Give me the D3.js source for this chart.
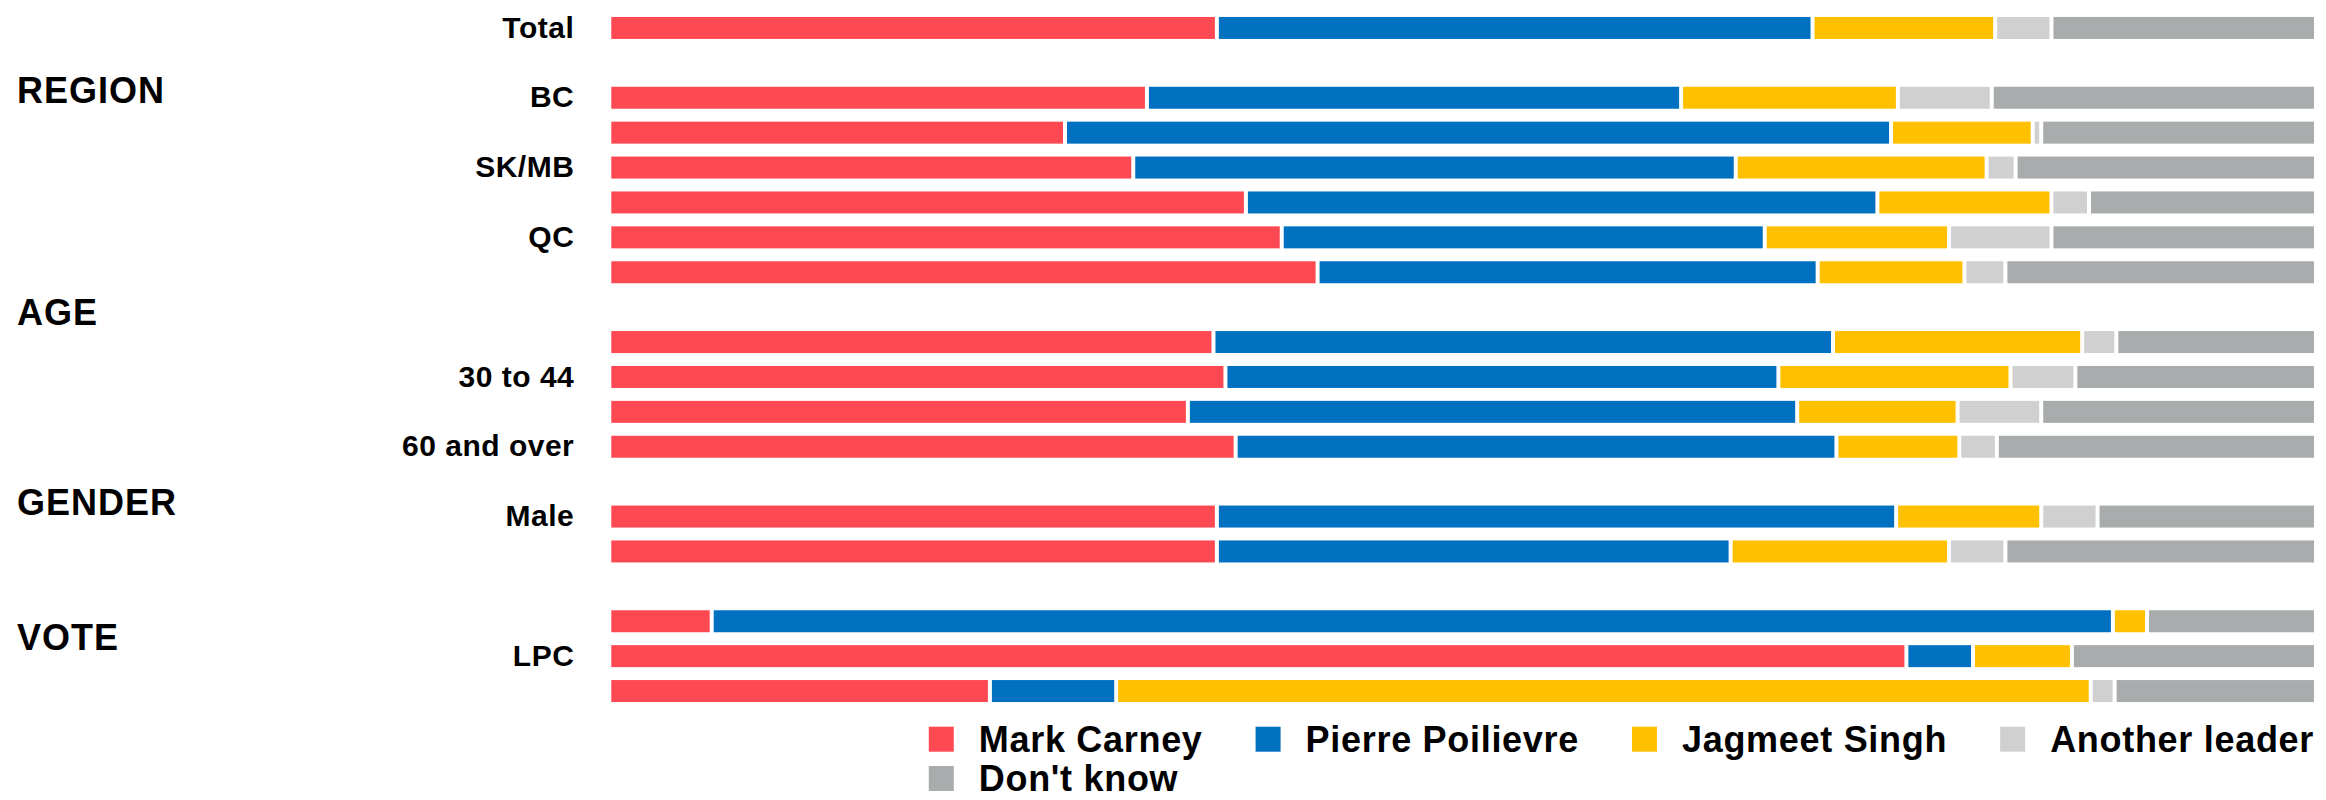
<!DOCTYPE html>
<html>
<head>
<meta charset="utf-8">
<script src="https://cdn.jsdelivr.net/npm/d3@7"></script>
<style>
  html, body { margin: 0; padding: 0; background: #fff; }
  svg { display: block; }
  text { font-family: "Liberation Sans", Arial, Helvetica, sans-serif; font-weight: bold; fill: #000; }
</style>
</head>
<body>
<script>
// ---------------- DATA ----------------
const categories = ["Total", "BC", "AB", "SK/MB", "ON", "QC", "ATL",
  "18 to 29", "30 to 44", "45 to 59", "60 and over",
  "Male", "Female", "CPC", "LPC", "NDP"];
const shownLabels = ["Total", "BC", "SK/MB", "QC", "30 to 44", "60 and over", "Male", "LPC"];
const seriesNames = ["Mark Carney", "Pierre Poilievre", "Jagmeet Singh", "Another leader", "Don't know"];
const carney    = [35.6, 31.5, 26.7, 30.7, 37.3, 39.4, 41.5, 35.4, 36.1, 33.9, 36.7, 35.6, 35.6,  6.0, 76.0, 22.3];
const poilievre = [34.9, 31.3, 48.4, 35.3, 37.0, 28.3, 29.3, 36.3, 32.4, 35.7, 35.2, 39.8, 30.1, 82.1,  3.9,  7.4];
const singh     = [10.7, 12.7,  8.3, 14.7, 10.2, 10.8,  8.6, 14.6, 13.6,  9.4,  7.2,  8.5, 12.8,  2.0,  5.8, 57.1];
const another   = [ 3.3,  5.5,  0.5,  1.7,  2.2,  6.0,  2.4,  2.0,  3.8,  4.9,  2.2,  3.3,  3.3,  0.0,  0.0,  1.4];
const dontKnow  = [15.5, 19.0, 16.1, 17.6, 13.3, 15.5, 18.2, 11.7, 14.1, 16.1, 18.7, 12.8, 18.2,  9.9, 14.3, 11.8];
const sections = ["REGION", "AGE", "GENDER", "VOTE"];
const sectionFirstRow = ["BC", "18 to 29", "Male", "CPC"];
const colors = ["#ff4952", "#0070c0", "#ffc000", "#cfd0cf", "#a9acac"];

// ---------------- LAYOUT ----------------
const W = 2326, H = 800;
const xLeft = 609.3, xRight = 2316;
const headerDy = [40, 18, 33, 64]; // baseline offset from the spacer row centre
const gapPx = 4;

const rows = categories.map((c, i) => ({
  cat: c, "Mark Carney": carney[i], "Pierre Poilievre": poilievre[i],
  "Jagmeet Singh": singh[i], "Another leader": another[i], "Don't know": dontKnow[i]
}));

// row order with spacer rows before each section
const rowOrder = [];
categories.forEach(c => {
  const si = sectionFirstRow.indexOf(c);
  if (si >= 0) rowOrder.push("__gap" + si);
  rowOrder.push(c);
});

const svg = d3.select("body").append("svg").attr("width", W).attr("height", H);

const x = d3.scaleLinear().domain([0, 100]).range([xLeft, xRight]);
const y = d3.scaleBand().domain(rowOrder).range([10.5, 708.5])
  .paddingInner(0.37).paddingOuter(0.185);
const color = d3.scaleOrdinal().domain(seriesNames).range(colors);

const stack = d3.stack().keys(seriesNames);
const stacked = stack(rows);

svg.append("g").selectAll("g").data(stacked).join("g")
  .attr("fill", d => color(d.key))
  .selectAll("rect").data(d => d).join("rect")
  .attr("x", d => x(d[0]) + gapPx / 2)
  .attr("y", d => y(d.data.cat))
  .attr("width", d => Math.max(0, x(d[1]) - x(d[0]) - gapPx))
  .attr("height", y.bandwidth());

// y axis (only some labels visible)
const yAxis = d3.axisLeft(y)
  .tickSize(0).tickPadding(35)
  .tickValues(shownLabels);
const gy = svg.append("g").attr("transform", `translate(${xLeft},0)`).call(yAxis);
gy.select(".domain").remove();
gy.selectAll("text")
  .style("font-family", '"Liberation Sans", Arial, Helvetica, sans-serif')
  .style("font-weight", "bold")
  .style("font-size", "30px")
  .style("letter-spacing", "0.5px")
  .attr("fill", "#000");

// section headers
svg.append("g").selectAll("text").data(sections).join("text")
  .attr("x", 17)
  .attr("y", (d, i) => y("__gap" + i) + y.bandwidth() / 2 + headerDy[i])
  .style("font-size", "36px")
  .style("letter-spacing", "1px")
  .text(d => d);

// legend
const legend = svg.append("g");
const sq = 25, txtOff = 50, itemGap = 53, perRow = 4;
const rowBase = [751.7, 791];
const items = legend.selectAll("g").data(seriesNames).join("g");
items.append("rect").attr("width", sq).attr("height", sq).attr("fill", d => color(d));
items.append("text").attr("x", txtOff).attr("y", sq)
  .style("font-size", "36px").style("letter-spacing", "0.7px").text(d => d);
const widths = [];
items.each(function () { widths.push(txtOff + d3.select(this).select("text").node().getComputedTextLength()); });
const row1W = d3.sum(widths.slice(0, perRow)) + itemGap * (perRow - 1);
const legendRight = xRight - 2;
const startX = legendRight - row1W;
let cx = startX;
items.attr("transform", (d, i) => {
  const r = Math.floor(i / perRow);
  if (i % perRow === 0) cx = startX;
  const t = `translate(${cx},${rowBase[r] - sq})`;
  cx += widths[i] + itemGap;
  return t;
});
</script>
</body>
</html>
